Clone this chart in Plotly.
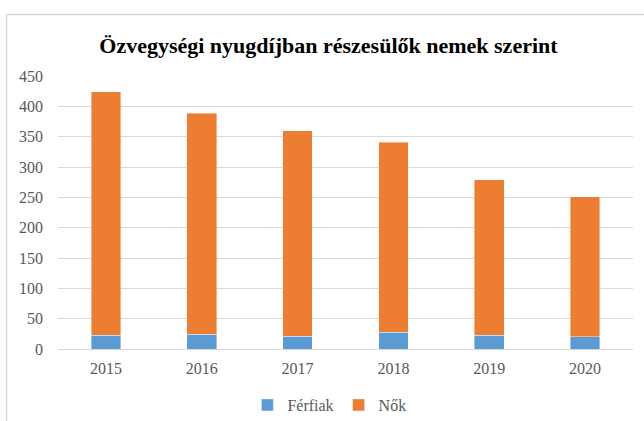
import plotly.graph_objects as go

years = ["2015", "2016", "2017", "2018", "2019", "2020"]
ferfiak = [23, 24, 21, 28, 23, 20]
nok = [401, 365, 339, 313, 256, 231]
y_ticks = [0, 50, 100, 150, 200, 250, 300, 350, 400, 450]

W, H = 644, 421
L, R, T, B = 58, 11, 76, 72
pw = W - L - R
ph = H - T - B

def px_x(x):
    return (x - L) / pw

def px_y(y):
    return (H - B - y) / ph

fig = go.Figure()
fig.add_bar(x=years, y=ferfiak, name="Férfiak", marker=dict(color="#5B9BD5", line=dict(color="rgba(255,255,255,0.5)", width=0.8)))
fig.add_bar(x=years, y=nok, name="Nők", marker=dict(color="#ED7D31", line=dict(color="rgba(255,255,255,0.5)", width=0.8)))

fig.update_layout(
    width=W, height=H,
    barmode="stack",
    bargap=0.69,
    margin=dict(l=L, r=R, t=T, b=B, autoexpand=False),
    paper_bgcolor="white",
    plot_bgcolor="white",
    font=dict(family="Liberation Serif, Times New Roman, serif", color="#595959", size=16),
    title=dict(text="<b>Özvegységi nyugdíjban részesülők nemek szerint</b>",
               x=0.51, xanchor="center", y=1 - 45 / H, yanchor="middle",
               font=dict(size=22, color="black", family="Liberation Serif, Times New Roman, serif")),
    xaxis=dict(showgrid=False, showline=False, ticks="", tickfont=dict(size=16), ticklabelstandoff=8,
               automargin=False),
    yaxis=dict(range=[0, 450], tickvals=y_ticks, showgrid=True, gridcolor="#D9D9D9", gridwidth=1,
               zeroline=True, zerolinecolor="#D9D9D9", zerolinewidth=1, showline=False, ticks="",
               tickfont=dict(size=16), ticklabelstandoff=14, automargin=False),
    legend=dict(orientation="h", x=0.472, xanchor="center", y=px_y(405), yanchor="middle",
                font=dict(size=16), itemwidth=30, traceorder="normal", tracegroupgap=0),
    showlegend=True,
)

fig.add_shape(type="rect", xref="paper", yref="paper",
              x0=px_x(6.5), x1=px_x(660), y0=px_y(440), y1=px_y(14.5),
              line=dict(color="#D9D9D9", width=1.5), fillcolor="rgba(0,0,0,0)", layer="below")

fig.write_html("out.html", config={"displayModeBar": False},
               post_script="document.body.style.margin='0';document.body.style.overflow='hidden';")
